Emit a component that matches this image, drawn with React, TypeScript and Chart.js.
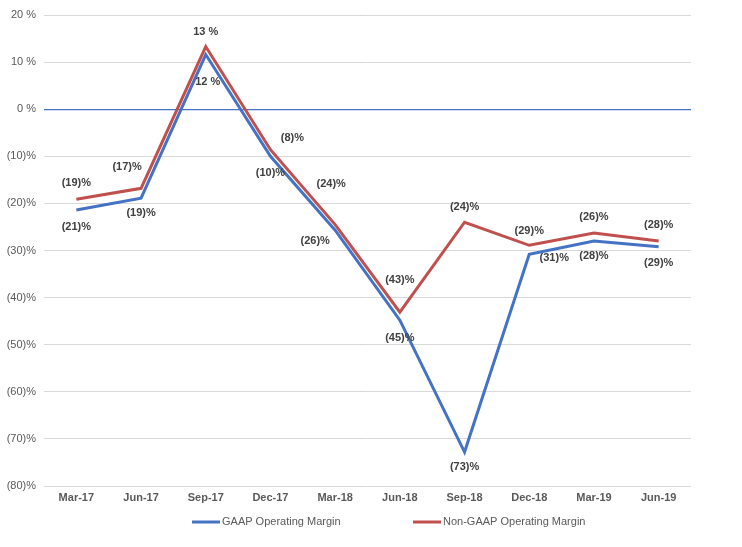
import React, { useEffect, useRef } from "react";
import { Chart, registerables } from "chart.js";

Chart.register(...registerables);

const categories = ["Mar-17", "Jun-17", "Sep-17", "Dec-17", "Mar-18", "Jun-18", "Sep-18", "Dec-18", "Mar-19", "Jun-19"];
const gaapMargin = [-21.4, -18.9, 11.6, -10.0, -25.7, -44.8, -72.8, -30.8, -28.0, -29.2];
const nonGaapMargin = [-19.1, -16.8, 13.3, -8.6, -24.5, -43.1, -24.0, -28.9, -26.3, -28.0];
const gaapLabels = ["(21)%", "(19)%", "12 %", "(10)%", "(26)%", "(45)%", "(73)%", "(31)%", "(28)%", "(29)%"];
const nonGaapLabels = ["(19)%", "(17)%", "13 %", "(8)%", "(24)%", "(43)%", "(24)%", "(29)%", "(26)%", "(28)%"];
const seriesNames = ["GAAP Operating Margin", "Non-GAAP Operating Margin"];

const FONT = "'Liberation Sans', Arial, sans-serif";
const BLUE = "#4472c4";
const RED = "#c0504d";

// label offsets relative to each point (pixels)
const offsetsBlue: [number, number][] = [[0, 17], [0, 15], [2, 27], [0, 17], [-20, 11], [0, 18], [0, 15], [25, 4], [0, 15], [0, 16]];
const offsetsRed: [number, number][] = [[0, -16], [-14, -21], [0, -15], [22, -12], [-4, -41], [0, -32], [0, -15], [0, -14], [0, -16], [0, -16]];

const labelPlugin = {
  id: "pointLabels",
  afterDatasetsDraw(chart: any) {
    const ctx = chart.ctx;
    ctx.save();
    ctx.font = `bold 11px ${FONT}`;
    ctx.fillStyle = "#404040";
    ctx.textAlign = "center";
    ctx.textBaseline = "middle";
    const sets = [
      { idx: 0, labels: gaapLabels, offs: offsetsBlue },
      { idx: 1, labels: nonGaapLabels, offs: offsetsRed },
    ];
    sets.forEach((s) => {
      const meta = chart.getDatasetMeta(s.idx);
      meta.data.forEach((pt: any, i: number) => {
        const [dx, dy] = s.offs[i];
        ctx.fillText(s.labels[i], pt.x + dx, pt.y + dy);
      });
    });
    ctx.restore();
  },
};

const legendPlugin = {
  id: "customLegend",
  afterDraw(chart: any) {
    const ctx = chart.ctx;
    ctx.save();
    ctx.font = `11px ${FONT}`;
    ctx.textBaseline = "middle";
    ctx.textAlign = "left";
    const y = 522;
    const starts = [192, 413];
    chart.data.datasets.forEach((ds: any, i: number) => {
      const x = starts[i];
      ctx.strokeStyle = ds.borderColor;
      ctx.lineWidth = 3;
      ctx.beginPath();
      ctx.moveTo(x, y);
      ctx.lineTo(x + 28, y);
      ctx.stroke();
      ctx.fillStyle = "#595959";
      ctx.fillText(ds.label, x + 30, y);
    });
    ctx.restore();
  },
};

export default function App() {
  const ref = useRef<HTMLCanvasElement>(null);
  useEffect(() => {
    if (!ref.current) return;
    const chart = new Chart(ref.current, {
      type: "line",
      data: {
        labels: categories,
        datasets: [
          { label: seriesNames[0], data: gaapMargin, borderColor: BLUE, backgroundColor: BLUE, borderWidth: 3, pointRadius: 0, tension: 0 },
          { label: seriesNames[1], data: nonGaapMargin, borderColor: RED, backgroundColor: RED, borderWidth: 3, pointRadius: 0, tension: 0 },
        ],
      },
      options: {
        animation: false,
        responsive: false,
        layout: { padding: { left: 0, top: 15, right: 51, bottom: 0 } },
        plugins: {
          legend: { display: false },
          tooltip: { enabled: false },
        },
        scales: {
          x: {
            offset: true,
            grid: { display: false, drawTicks: false },
            border: { display: false },
            ticks: { color: "#595959", font: { family: FONT, size: 11, weight: "bold" }, padding: 5, maxRotation: 0, autoSkip: false },
            afterFit: (s: any) => { s.height = 61; },
          },
          y: {
            min: -80,
            max: 20,
            grid: {
              color: (c: any) => (c.tick && c.tick.value === 0 ? "#4472c4" : "#d9d9d9"),
              lineWidth: (c: any) => (c.tick && c.tick.value === 0 ? 1.2 : 1),
              drawTicks: false,
            },
            border: { display: false },
            ticks: {
              stepSize: 10,
              color: "#595959",
              font: { family: FONT, size: 11 },
              padding: 8,
              callback: (v: any) => (v < 0 ? `(${-v})%` : `${v} %`),
            },
            afterFit: (s: any) => { s.width = 44; },
          },
        },
      },
      plugins: [labelPlugin, legendPlugin],
    });
    return () => chart.destroy();
  }, []);
  return (
    <div style={{ position: "fixed", left: 0, top: 0, width: 742, height: 547, background: "#fff" }}>
      <canvas ref={ref} width={742} height={547} style={{ width: 742, height: 547 }} />
    </div>
  );
}
